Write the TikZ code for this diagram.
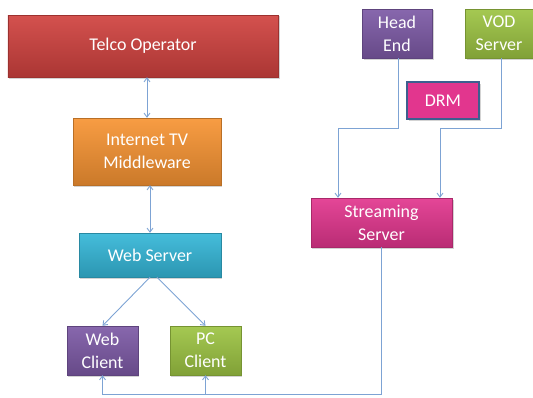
\documentclass[tikz,border=0pt]{standalone}
\usepackage{fontspec}
\setmainfont{Carlito}
\usetikzlibrary{calc,arrows.meta,shadows}
\definecolor{telcored}{HTML}{D0423F}
\definecolor{mwor}{HTML}{F79433}
\definecolor{webcyan}{HTML}{35B7D8}
\definecolor{purp}{HTML}{7D5AA6}
\definecolor{lime}{HTML}{9DC443}
\definecolor{magen}{HTML}{E2368E}
\definecolor{wire}{HTML}{7DA3D4}
\definecolor{drmedge}{HTML}{3D5F8F}
\tikzset{
  box/.style={rectangle, inner sep=0pt, align=center, text=white, font=\fontsize{18}{23}\selectfont,
    drop shadow={shadow xshift=1.5pt, shadow yshift=-1.5pt, opacity=0.35}},
  fillc/.style={top color=#1!92!white, bottom color=#1!82!black, draw=#1!75!black, line width=0.4pt},
  link/.style={draw=wire, line width=0.9pt},
  tip/.style={-{Straight Barb[length=4pt,width=6pt]}},
  tips/.style={{Straight Barb[length=4pt,width=6pt]}-{Straight Barb[length=4pt,width=6pt]}},
}
\begin{document}
\begin{tikzpicture}[x=1bp,y=-1bp]
  \useasboundingbox (0,0) rectangle (533,397);
  \node[box, fillc=telcored, minimum width=270bp, minimum height=62bp] (telco) at (143,46) {Telco Operator};
  \node[box, fillc=mwor, minimum width=148bp, minimum height=67bp] (mw) at (147,151.5) {Internet TV\\Middleware};
  \node[box, fillc=webcyan, minimum width=142bp, minimum height=44bp] (ws) at (150,255) {Web Server};
  \node[box, fillc=purp, minimum width=71bp, minimum height=49bp] (wc) at (102.5,350.5) {Web\\Client};
  \node[box, fillc=lime, minimum width=71bp, minimum height=49bp] (pc) at (205.5,350.5) {PC\\Client};
  \node[box, fillc=magen, minimum width=141bp, minimum height=49bp] (ss) at (381.5,222.5) {Streaming\\Server};
  \node[box, fillc=purp, minimum width=70bp, minimum height=49bp] (he) at (397,33.5) {Head\\End};
  \node[box, fillc=lime, minimum width=68bp, minimum height=49bp] (vod) at (499,33.5) {VOD\\Server};
  \node[box, fill=magen, draw=drmedge, line width=1.5pt, minimum width=72bp, minimum height=37bp] (drm) at (443,100.5) {DRM};

  \coordinate (heb) at (398,128);
  \coordinate (vodb) at (501,128);
  \coordinate (bus) at (381.5,394);

  \draw[link, tips] (mw.north) -- (mw.north |- telco.south);
  \draw[link, tips] (ws.north) -- (ws.north |- mw.south);
  \draw[link, tip] (ws.south) -- (wc.north);
  \draw[link, tip] ($(ws.south)+(7,0)$) -- (pc.north);
  \draw[link, tip] (he.south -| heb) -- (heb) -| ($(ss.north)+(-43.5,0)$);
  \draw[link, tip] (vod.south -| vodb) -- (vodb) -| ($(ss.north)+(58.5,0)$);
  \draw[link, tip] (ss.south) -- (bus) -| (wc.south);
  \draw[link, tip] (bus -| pc.south) -- (pc.south);
\end{tikzpicture}
\end{document}
